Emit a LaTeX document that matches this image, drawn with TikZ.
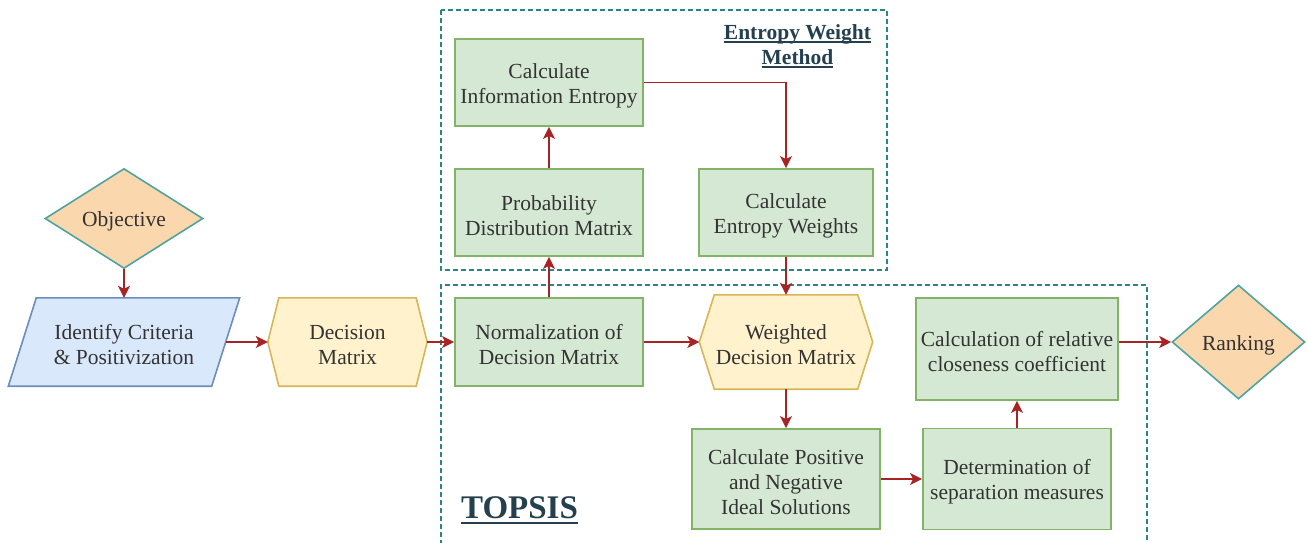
\documentclass[tikz,border=0pt]{standalone}
\usepackage{fontspec}
\setmainfont{Liberation Serif}
\usetikzlibrary{arrows.meta,shapes.geometric,calc}
\definecolor{gfill}{HTML}{D5E8D4}
\definecolor{gline}{HTML}{82B366}
\definecolor{yfill}{HTML}{FFF2CC}
\definecolor{yline}{HTML}{D6B656}
\definecolor{ofill}{HTML}{FAD7AC}
\definecolor{tline}{HTML}{4FA3A0}
\definecolor{bfill}{HTML}{DAE8FC}
\definecolor{bline}{HTML}{6C8EBF}
\definecolor{arr}{HTML}{A82424}
\definecolor{grpc}{HTML}{2A8585}
\definecolor{txt}{HTML}{333333}
\definecolor{ttl}{HTML}{24404F}
\pgfdeclarelayer{bg}
\pgfsetlayers{bg,main}
\newcommand\myul[3]{\setbox0\hbox{#3}\rlap{\rule[-#1]{\wd0}{#2}}\box0}
\newcommand\tp{\rule{0pt}{21pt}}
\begin{document}
\begin{tikzpicture}[x=1pt,y=-1pt,
  every node/.style={font=\fontsize{21.5}{25}\selectfont, text=txt, align=center, inner sep=0pt},
  gbox/.style={draw=gline, fill=gfill, line width=1.8pt},
  hexs/.style={draw=yline, fill=yfill, line width=1.6pt},
  dia/.style={diamond, draw=tline, fill=ofill, line width=1.6pt, aspect=1.5},
  para/.style={draw=bline, fill=bfill, line width=1.6pt},
  flow/.style={draw=arr, line width=1.6pt, -{Stealth[length=12pt,width=12pt,inset=3pt]}},
  grp/.style={draw=grpc, line width=1.3pt, dash pattern=on 5pt off 3pt},
  ttlfont/.style={text=ttl, font=\fontsize{21.5}{25}\selectfont\bfseries}
]
\useasboundingbox (0,0) rectangle (1308,542);

% group frames
\draw[grp] (441,10) rectangle (887,270);
\draw[grp] (441,545) -- (441,285) -- (1147,285) -- (1147,545);

% titles
\node[ttlfont] (ewmt) at (797.5,43) {\tp\myul{3.5pt}{1.5pt}{Entropy Weight}\\\myul{3.5pt}{1.5pt}{Method}};
\node[text=ttl, font=\fontsize{33}{36}\selectfont\bfseries, anchor=base] (topsis) at (519.5,518) {\myul{6pt}{2pt}{TOPSIS}};

% nodes
\node[dia, minimum width=158pt, minimum height=100pt] (obj) at (124,218.5) {\tp Objective};
\node[minimum width=203pt, minimum height=88pt] (id) at (124,342) {\tp Identify Criteria\\\& Positivization};
\node[minimum width=159pt, minimum height=88pt] (dm) at (347.5,342) {\tp Decision\\Matrix};
\node[gbox, minimum width=188pt, minimum height=88pt] (norm) at (549,342) {\tp Normalization of\\Decision Matrix};
\node[gbox, minimum width=188pt, minimum height=87pt] (prob) at (549,212.5) {\tp Probability\\Distribution Matrix};
\node[gbox, minimum width=188pt, minimum height=87pt] (info) at (549,82.5) {\tp Calculate\\Information Entropy};
\node[gbox, minimum width=174pt, minimum height=87pt] (ew) at (786,212.5) {\tp Calculate\\Entropy Weights};
\node[minimum width=173pt, minimum height=94pt] (wdm) at (786,342) {\tp Weighted\\Decision Matrix};
\node[gbox, minimum width=188pt, minimum height=100pt] (pos) at (786,479) {\tp Calculate Positive\\and Negative\\Ideal Solutions};
\node[gbox, minimum width=188pt, minimum height=101pt] (sep) at (1017,479) {\tp Determination of\\separation measures};
\node[gbox, minimum width=202pt, minimum height=102pt] (cc) at (1017,349) {\tp Calculation of relative\\closeness coefficient};
\node[dia, minimum width=133pt, minimum height=114pt] (rank) at (1238.5,342) {\tp Ranking};

% shapes drawn behind text
\begin{pgfonlayer}{bg}
\draw[para] ($(id.north west)+(14,0)$) -- ($(id.north east)+(14,0)$) -- ($(id.south east)+(-14,0)$) -- ($(id.south west)+(-14,0)$) -- cycle;
\draw[hexs] (dm.west) -- ($(dm.north west)+(11,0)$) -- ($(dm.north east)+(-11,0)$) -- (dm.east) -- ($(dm.south east)+(-11,0)$) -- ($(dm.south west)+(11,0)$) -- cycle;
\draw[hexs] (wdm.west) -- ($(wdm.north west)+(15,0)$) -- ($(wdm.north east)+(-15,0)$) -- (wdm.east) -- ($(wdm.south east)+(-15,0)$) -- ($(wdm.south west)+(15,0)$) -- cycle;
\end{pgfonlayer}

% connectors
\draw[flow] (obj.south) -- (id.north);
\draw[flow] (id.east) -- (dm.west);
\draw[flow] (dm.east) -- (norm.west);
\draw[flow] (norm.north) -- (prob.south);
\draw[flow] (prob.north) -- (info.south);
\draw[flow] (info.east) -| (ew.north);
\draw[flow] (ew.south) -- (wdm.north);
\draw[flow] (norm.east) -- (wdm.west);
\draw[flow] (wdm.south) -- (pos.north);
\draw[flow] (pos.east) -- (sep.west);
\draw[flow] (sep.north) -- (cc.south);
\draw[flow] (cc.east |- rank.west) -- (rank.west);
\end{tikzpicture}
\end{document}
